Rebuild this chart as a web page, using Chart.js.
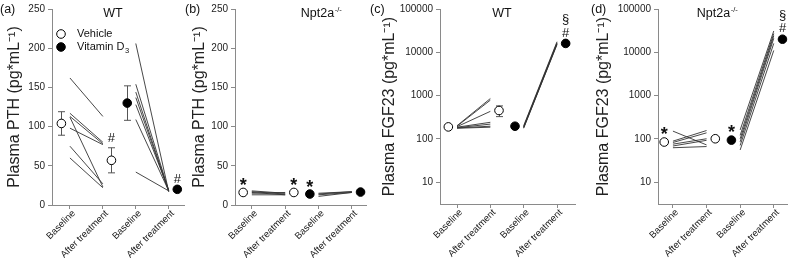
<!DOCTYPE html>
<html><head><meta charset="utf-8">
<script src="https://cdn.jsdelivr.net/npm/chart.js@4.4.1/dist/chart.umd.min.js"></script>
<style>
body{margin:0;width:793px;height:258px;background:#fff;position:relative;overflow:hidden}
canvas{position:absolute;top:0}
</style></head><body>
<script>
// ---------- data ----------
const categories = ['Baseline', 'After treatment', 'Baseline', 'After treatment'];
const linTicks = [0, 50, 100, 150, 200, 250];
const logTicks = [10, 100, 1000, 10000, 100000];

// (a) WT, plasma PTH
const aVehicleBaseline = [162, 117, 113, 98, 112, 75, 60];
const aVehicleAfter    = [113, 80, 78, 77, 23, 27, 22];
const aVitD3Baseline   = [206, 154, 144, 137, 128, 109, 42];
const aVitD3After      = [17, 18, 17, 18, 19, 18, 18];
const aVehicleMean = [104, 57];
const aVehicleSem  = [15, 16];
const aVitD3Mean   = [130, 20];
const aVitD3Sem    = [22, 1];
const aVehicleMarks = [[], ['#']];
const aVitD3Marks   = [[], ['#']];

// (b) Npt2a-/-, plasma PTH
const bVehicleBaseline = [18, 17, 15, 13, 16];
const bVehicleAfter    = [15, 14, 16, 13, 13];
const bVitD3Baseline   = [15, 13, 11, 14];
const bVitD3After      = [17, 16, 16, 17];
const bVehicleMean = [16, 16];
const bVehicleSem  = [1, 1];
const bVitD3Mean   = [14, 16.5];
const bVitD3Sem    = [1, 1];
const bVehicleMarks = [['*'], ['*']];
const bVitD3Marks   = [['*'], []];

// (c) WT, plasma FGF23
const cVehicleBaseline = [200, 195, 190, 185, 180, 178, 175];
const cVehicleAfter    = [850, 780, 430, 240, 218, 195, 185];
const cVitD3Baseline   = [175, 180, 185, 190, 200];
const cVitD3After      = [15000, 15500, 16000, 16500, 17500];
const cVehicleMean = [188, 450];
const cVehicleSem  = [10, 125];
const cVitD3Mean   = [195, 16000];
const cVitD3Sem    = [10, 1000];
const cVehicleMarks = [[], []];
const cVitD3Marks   = [[], ['#', '§']];

// (d) Npt2a-/-, plasma FGF23
const dVehicleBaseline = [150, 88, 82, 75, 68, 62];
const dVehicleAfter    = [72, 155, 137, 100, 92, 66];
const dVitD3Baseline   = [160, 120, 100, 85, 70, 55];
const dVitD3After      = [31000, 27000, 24000, 21000, 16000, 11000];
const dVehicleMean = [84, 100];
const dVehicleSem  = [8, 8];
const dVitD3Mean   = [93, 20000];
const dVitD3Sem    = [8, 1500];
const dVehicleMarks = [['*'], []];
const dVitD3Marks   = [['*'], ['#', '§']];

// ---------- drawing ----------
const FONT = "'Liberation Sans', Arial, Helvetica, sans-serif";
Chart.defaults.font.family = FONT;
Chart.defaults.color = '#222';
const OFF = 0.26;
const AXIS = '#8a8a8a';

function drawMark(ctx, t, x, cy) {
  ctx.font = (t === '*' ? 'bold 18px ' : '13px ') + FONT;
  ctx.textAlign = 'center';
  ctx.textBaseline = 'alphabetic';
  const m = ctx.measureText(t);
  const base = cy + (m.actualBoundingBoxAscent - m.actualBoundingBoxDescent) / 2;
  ctx.fillText(t, x, base);
}

const deco = {
  id: 'deco',
  beforeDatasetsDraw(chart, args, o) {
    const {ctx} = chart, xs = chart.scales.x, ys = chart.scales.y;
    ctx.save();
    ctx.strokeStyle = '#555'; ctx.lineWidth = 1;
    o.groups.forEach(g => {
      g.mean.forEach((m, j) => {
        const x = Math.round(xs.getPixelForValue(g.pos + j + (j ? OFF : -OFF))) + 0.5;
        const lo = Math.max(m - g.sem[j], 1e-6);
        const y1 = ys.getPixelForValue(m + g.sem[j]);
        const y0 = ys.getPixelForValue(lo);
        ctx.beginPath();
        ctx.moveTo(x, y0); ctx.lineTo(x, y1);
        ctx.moveTo(x - 3.5, y0); ctx.lineTo(x + 3.5, y0);
        ctx.moveTo(x - 3.5, y1); ctx.lineTo(x + 3.5, y1);
        ctx.stroke();
      });
    });
    ctx.restore();
  },
  afterDatasetsDraw(chart, args, o) {
    const {ctx} = chart, xs = chart.scales.x, ys = chart.scales.y;
    ctx.save();
    ctx.fillStyle = '#111';
    o.groups.forEach(g => {
      g.mean.forEach((m, j) => {
        const x = xs.getPixelForValue(g.pos + j + (j ? OFF : -OFF));
        const yTop = ys.getPixelForValue(m + g.sem[j]);
        g.marks[j].forEach((t, k) => drawMark(ctx, t, x, yTop - 10 - 12.5 * k));
      });
    });
    // panel letter
    ctx.fillStyle = '#111';
    ctx.font = '12.5px ' + FONT; ctx.textAlign = 'left'; ctx.textBaseline = 'middle';
    ctx.fillText(o.letter, o.letterX, 10);
    // panel title
    ctx.font = '12.5px ' + FONT; ctx.textBaseline = 'middle';
    const w1 = ctx.measureText(o.title).width;
    let w2 = 0;
    if (o.titleSup) { ctx.font = '7.5px ' + FONT; w2 = ctx.measureText(o.titleSup).width; }
    const sx = o.titleX - (w1 + w2) / 2;
    ctx.font = '12.5px ' + FONT; ctx.textAlign = 'left';
    ctx.fillText(o.title, sx, 14);
    if (o.titleSup) { ctx.font = '7.5px ' + FONT; ctx.fillText(o.titleSup, sx + w1 + 0.5, 9.5); }
    // legend
    if (o.legend) {
      const items = [{fill: '#fff', text: 'Vehicle', y: 34}, {fill: '#000', text: 'Vitamin D', sub: '3', y: 47}];
      items.forEach(it => {
        ctx.beginPath(); ctx.arc(61, it.y, 4.3, 0, Math.PI * 2);
        ctx.fillStyle = it.fill; ctx.fill();
        ctx.strokeStyle = '#000'; ctx.lineWidth = 1; ctx.stroke();
        ctx.fillStyle = '#111'; ctx.font = '11px ' + FONT; ctx.textAlign = 'left'; ctx.textBaseline = 'middle';
        ctx.fillText(it.text, 77, it.y);
        if (it.sub) {
          const w = ctx.measureText(it.text).width;
          ctx.font = '7.5px ' + FONT; ctx.fillText(it.sub, 77 + w + 0.5, it.y + 4);
        }
      });
    }
    ctx.restore();
  }
};

function lineDatasets(base, after, pos) {
  return base.map((b, i) => ({
    type: 'line', data: [{x: pos, y: b}, {x: pos + 1, y: after[i]}],
    borderColor: '#333', borderWidth: 0.9, pointRadius: 0, fill: false, order: 2
  }));
}
function meanDataset(mean, pos, filled) {
  return {
    type: 'scatter', data: [{x: pos - OFF, y: mean[0]}, {x: pos + 1 + OFF, y: mean[1]}],
    pointRadius: 4.3, backgroundColor: filled ? '#000' : '#fff', borderColor: '#000',
    pointBackgroundColor: filled ? '#000' : '#fff', pointBorderColor: '#000', pointBorderWidth: 1, order: 0
  };
}

function makePanel(p) {
  const cv = document.createElement('canvas');
  cv.width = p.width; cv.height = 258;
  cv.style.left = p.left + 'px'; cv.style.width = p.width + 'px'; cv.style.height = '258px';
  document.body.appendChild(cv);
  const datasets = [];
  p.groups.forEach(g => datasets.push(meanDataset(g.mean, g.pos, g.filled)));
  p.groups.forEach(g => datasets.push(...lineDatasets(g.base, g.after, g.pos)));
  const yScale = p.log ? {
    type: 'logarithmic', min: 3.1, max: 100000,
    afterBuildTicks: s => { s.ticks = logTicks.map(v => ({value: v})); },
    ticks: {callback: v => String(v), font: {size: 10}, padding: 3, color: '#222'}
  } : {
    type: 'linear', min: 0, max: 250,
    afterBuildTicks: s => { s.ticks = linTicks.map(v => ({value: v})); },
    ticks: {callback: v => String(v), font: {size: 10}, padding: 3, color: '#222'}
  };
  Object.assign(yScale, {
    afterFit: s => { s.width = p.yWidth; },
    grid: {drawOnChartArea: false, tickLength: 4, color: AXIS},
    border: {color: AXIS},
    title: {display: true, text: p.yTitle, font: {size: 16, family: FONT}, color: '#222', padding: {top: p.titlePad, bottom: 0}}
  });
  new Chart(cv, {
    type: 'scatter',
    data: {datasets},
    options: {
      responsive: false, animation: false, events: [],
      layout: {padding: {top: p.log ? 6 : 5, right: p.padRight, left: 0, bottom: 0}},
      plugins: {legend: {display: false}, tooltip: {enabled: false},
        deco: {groups: p.groups, letter: p.letter, letterX: p.letterX, title: p.title, titleSup: p.titleSup, titleX: p.titleX - p.left, legend: p.legend}},
      scales: {
        x: {
          type: 'linear', min: p.xMin, max: p.xMax,
          afterFit: s => { s.height = p.log ? 54 : 53; },
          afterBuildTicks: s => { s.ticks = categories.map((c, i) => ({value: i + 1})); },
          ticks: {callback: v => categories[Math.round(v) - 1] || '', minRotation: 45, maxRotation: 45, autoSkip: false, font: {size: 9.5}, padding: -1, labelOffset: 4, color: '#222'},
          grid: {drawOnChartArea: false, tickLength: 4, color: AXIS},
          border: {color: AXIS}
        },
        y: yScale
      }
    },
    plugins: [deco]
  });
}

const yPTH = 'Plasma PTH (pg*mL\u207B\u00B9)';
const yFGF = 'Plasma FGF23 (pg*mL\u207B\u00B9)';

makePanel({left: 0, width: 190, padRight: 5, yWidth: 52, titlePad: 5.4, yTitle: yPTH, log: false,
  xMin: 0.455, xMax: 4.485, letter: '(a)', letterX: 0, title: 'WT', titleX: 113, legend: true,
  groups: [
    {pos: 1, base: aVehicleBaseline, after: aVehicleAfter, mean: aVehicleMean, sem: aVehicleSem, marks: aVehicleMarks, filled: false},
    {pos: 3, base: aVitD3Baseline, after: aVitD3After, mean: aVitD3Mean, sem: aVitD3Sem, marks: aVitD3Marks, filled: true}
  ]});
makePanel({left: 180, width: 192, padRight: 4, yWidth: 55, titlePad: 10.4, yTitle: yPTH, log: false,
  xMin: 0.495, xMax: 4.445, letter: '(b)', letterX: 5, title: 'Npt2a', titleSup: '-/-', titleX: 321,
  groups: [
    {pos: 1, base: bVehicleBaseline, after: bVehicleAfter, mean: bVehicleMean, sem: bVehicleSem, marks: bVehicleMarks, filled: false},
    {pos: 3, base: bVitD3Baseline, after: bVitD3After, mean: bVitD3Mean, sem: bVitD3Sem, marks: bVitD3Marks, filled: true}
  ]});
makePanel({left: 365, width: 225, padRight: 15, yWidth: 75, titlePad: 15.4, yTitle: yFGF, log: true,
  xMin: 0.49, xMax: 4.54, letter: '(c)', letterX: 5, title: 'WT', titleX: 502,
  groups: [
    {pos: 1, base: cVehicleBaseline, after: cVehicleAfter, mean: cVehicleMean, sem: cVehicleSem, marks: cVehicleMarks, filled: false},
    {pos: 3, base: cVitD3Baseline, after: cVitD3After, mean: cVitD3Mean, sem: cVitD3Sem, marks: cVitD3Marks, filled: true}
  ]});
makePanel({left: 585, width: 208, padRight: 5, yWidth: 73, titlePad: 9.4, yTitle: yFGF, log: true,
  xMin: 0.555, xMax: 4.415, letter: '(d)', letterX: 6, title: 'Npt2a', titleSup: '-/-', titleX: 717,
  groups: [
    {pos: 1, base: dVehicleBaseline, after: dVehicleAfter, mean: dVehicleMean, sem: dVehicleSem, marks: dVehicleMarks, filled: false},
    {pos: 3, base: dVitD3Baseline, after: dVitD3After, mean: dVitD3Mean, sem: dVitD3Sem, marks: dVitD3Marks, filled: true}
  ]});
</script>
</body></html>
